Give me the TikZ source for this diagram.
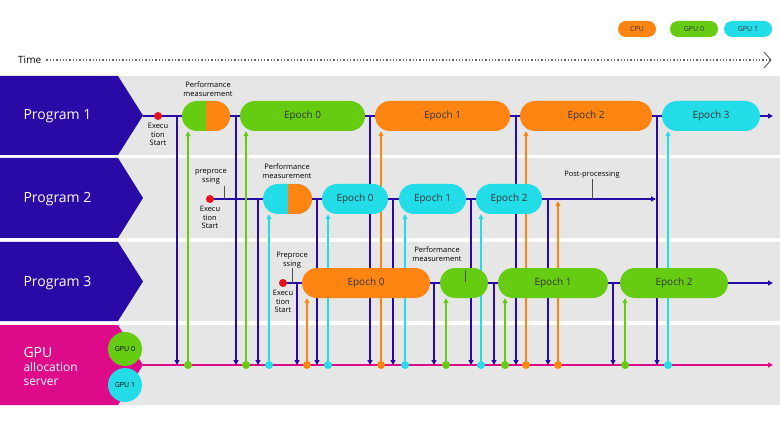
\documentclass[tikz,border=0pt]{standalone}
\usepackage{fontspec}
\setmainfont{Open Sans}
\usetikzlibrary{shapes.misc,arrows.meta,positioning}
\definecolor{nb}{HTML}{2A0AA6}
\definecolor{gr}{HTML}{66CC11}
\definecolor{og}{HTML}{FF8513}
\definecolor{cy}{HTML}{22DDE8}
\definecolor{mg}{HTML}{DD0A8A}
\definecolor{rd}{HTML}{E8101A}
\definecolor{bg}{HTML}{E6E6E6}
\pgfdeclarelayer{bgl}
\pgfsetlayers{bgl,main}
\tikzset{
 x=1pt,y=-1pt,
 tip/.style={-{Triangle[length=5pt,width=5pt]}},
 pill/.style={rounded rectangle,minimum height=30pt,inner sep=0pt,font=\fontsize{10}{11}\selectfont,text=black!80},
 half/.style={pill,fill=#1,path picture={\fill[og] (path picture bounding box.south) rectangle (path picture bounding box.north east);}},
 row/.style={line width=1.5pt,draw=nb},
 bdown/.style={row,tip},
 up/.style={line width=1.5pt,draw=#1,tip,color=#1},
 dot/.style={circle,fill=#1,inner sep=0pt,minimum size=8pt},
 lbl/.style={font=\fontsize{7.5}{8.5}\selectfont,align=center,inner sep=0pt},
 prog/.style={fill=nb},
 ptext/.style={font=\fontsize{14}{16}\selectfont,text=white,anchor=west,align=left},
}
\begin{document}
\begin{tikzpicture}
\useasboundingbox (0,0) rectangle (780,433);
\begin{pgfonlayer}{bgl}
\fill[white] (0,0) rectangle (780,433);
\foreach \a/\b in {76/155,158/238,242/321,325/405} \fill[bg] (118,\a) rectangle (780,\b);
\foreach \a/\b in {76/155,158/238,242/321} \fill[prog] (0,\a) -- (118,\a) -- (143,{(\a+\b)/2}) -- (118,\b) -- (0,\b) -- cycle;
\fill[mg] (0,325) -- (118,325) -- (143,365) -- (118,405) -- (0,405) -- cycle;
\end{pgfonlayer}
\node[ptext] (p1) at (20,116) {Program 1};
\node[ptext] (p2) at (20,199) {Program 2};
\node[ptext] (p3) at (20,283) {Program 3};
\node[ptext] (gs) at (20,366) {GPU\\[-2pt]{\fontsize{12}{14}\selectfont allocation}\\[-2pt]{\fontsize{12}{14}\selectfont server}};
% time
\node[anchor=west,font=\fontsize{10}{11}\selectfont,inner sep=0pt] (time) at (18,60) {Time};
\coordinate (tend) at (770,60);
\draw[line width=1.3pt,dotted,black!60] (time.east)+(5,0) -- (tend);
\draw[line width=1pt,black!60] (764,52) -- (771,60) -- (764,68);
% legend
\node[pill,fill=og,minimum height=16pt,minimum width=38pt,font=\fontsize{7}{8}\selectfont] (lc) at (637,29) {CPU};
\node[pill,fill=gr,minimum height=16pt,minimum width=48pt,font=\fontsize{7}{8}\selectfont] (lg0) at (694,29) {GPU 0};
\node[pill,fill=cy,minimum height=16pt,minimum width=48pt,font=\fontsize{7}{8}\selectfont] (lg1) at (748,29) {GPU 1};
% row lines
\coordinate (r1s) at (143,116); \coordinate (r1e) at (773,116);
\coordinate (r2s) at (210,199); \coordinate (r2e) at (656,199);
\coordinate (r3s) at (283,283); \coordinate (r3e) at (773,283);
\coordinate (gls) at (143,365); \coordinate (gle) at (773,365);
\begin{pgfonlayer}{bgl}
\draw[row,tip] (r1s) -- (r1e);
\draw[row,tip] (r2s) -- (r2e);
\draw[row,tip] (r3s) -- (r3e);
\draw[line width=1.5pt,mg,tip] (gls) -- (gle);
\foreach \x in {177,236,370,516,657} \draw[bdown] (\x,116) -- (\x,365);
\foreach \x in {258,317,393,471,548} \draw[bdown] (\x,199) -- (\x,365);
\foreach \x in {297,434,494,613} \draw[bdown] (\x,283) -- (\x,365);
\end{pgfonlayer}
% pills
\node[half=gr,minimum width=48pt] (pm1) at (206,116) {};
\node[pill,fill=gr,minimum width=125pt] (e10) at (302.5,116) {Epoch 0};
\node[pill,fill=og,minimum width=135pt] (e11) at (442.5,116) {Epoch 1};
\node[pill,fill=og,minimum width=132pt] (e12) at (586,116) {Epoch 2};
\node[pill,fill=cy,minimum width=98pt] (e13) at (711,116) {Epoch 3};
\node[half=cy,minimum width=49pt] (pm2) at (287.5,199) {};
\node[pill,fill=cy,minimum width=66pt] (e20) at (355,199) {Epoch 0};
\node[pill,fill=cy,minimum width=67pt] (e21) at (432.5,199) {Epoch 1};
\node[pill,fill=cy,minimum width=66pt] (e22) at (509,199) {Epoch 2};
\node[pill,fill=og,minimum width=128pt] (e30) at (366,283) {Epoch 0};
\node[pill,fill=gr,minimum width=48pt] (pm3) at (464,283) {};
\node[pill,fill=gr,minimum width=110pt] (e31) at (553,283) {Epoch 1};
\node[pill,fill=gr,minimum width=108pt] (e32) at (674,283) {Epoch 2};
% up arrows with dots
\foreach \x/\c/\t in {188/gr/pm1,246/gr/e10,381/og/e11,526/og/e12,668/cy/e13,
  269/cy/pm2,328/cy/e20,405/cy/e21,481/cy/e22,
  307/og/e30,446/gr/pm3,505/gr/e31,625/gr/e32}{
  \node[dot=\c] (d\x) at (\x,365) {};
  \begin{pgfonlayer}{bgl}
  \draw[up=\c] (d\x.center) -- (\t.south -| d\x);
  \end{pgfonlayer}
}
\node[dot=og] (d558) at (558,365) {};
\coordinate (pp) at (558,201);
\begin{pgfonlayer}{bgl}
\draw[up=og] (d558.center) -- (pp);
\end{pgfonlayer}
% red start dots
\node[dot=rd] (s1) at (158,116) {};
\node[dot=rd] (s2) at (210,199) {};
\node[dot=rd] (s3) at (283,283) {};
\node[lbl,below=3pt of s1] (x1) {Execu\\tion\\Start};
\node[lbl,below=3pt of s2] (x2) {Execu\\tion\\Start};
\node[lbl,below=3pt of s3] (x3) {Execu\\tion\\Start};
% labels
\node[lbl] (lpm1) at (208,89) {Performance\\measurement};
\node[lbl] (lpm2) at (287,171) {Performance\\measurement};
\node[lbl] (lpm3) at (437,254) {Performance\\measurement};
\node[lbl] (lpre2) at (211,177) {preproce\\ssing};
\node[lbl] (lpre3) at (292,260) {Preproce\\ssing};
\node[lbl] (lpost) at (592,175) {Post-processing};
\draw[black!70,line width=0.6pt] (224,186) -- (224,199);
\draw[black!70,line width=0.6pt] (292,268) -- (292,283);
\draw[black!70,line width=0.6pt] (465,270) -- (465,282);
\draw[black!70,line width=0.6pt] (lpost.south) -- (592,199);
% GPU circles
\node[circle,fill=gr,minimum size=34pt,inner sep=0pt,font=\fontsize{7}{8}\selectfont] (g0) at (125,349) {GPU 0};
\node[circle,fill=cy,minimum size=34pt,inner sep=0pt,font=\fontsize{7}{8}\selectfont] (g1) at (125,385) {GPU 1};
\end{tikzpicture}
\end{document}
